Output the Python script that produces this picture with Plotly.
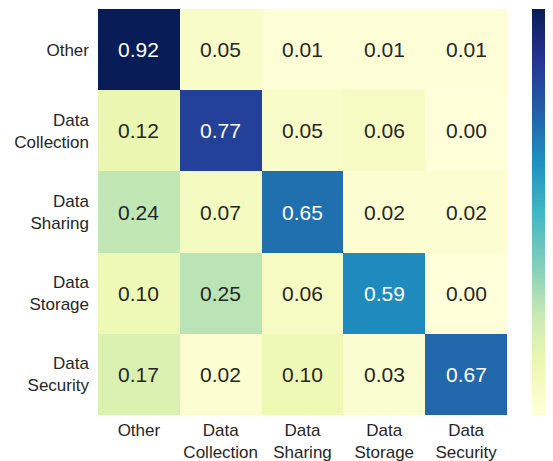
import plotly.graph_objects as go

labels = ["Other", "Data\nCollection", "Data\nSharing", "Data\nStorage", "Data\nSecurity"]
values = [
    [0.92, 0.05, 0.01, 0.01, 0.01],
    [0.12, 0.77, 0.05, 0.06, 0.00],
    [0.24, 0.07, 0.65, 0.02, 0.02],
    [0.10, 0.25, 0.06, 0.59, 0.00],
    [0.17, 0.02, 0.10, 0.03, 0.67],
]

ylgnbu = ["#ffffd9", "#edf8b1", "#c7e9b4", "#7fcdbb", "#41b6c4",
          "#1d91c0", "#225ea8", "#253494", "#081d58"]
colorscale = [[i / (len(ylgnbu) - 1), c] for i, c in enumerate(ylgnbu)]

# page body has an 8px default margin, so the figure is offset by 8px
W, H = 545, 461
L, R, T, B = 90, 46, 1, 54
pw = W - L - R

ticktext = [s.replace("\n", "<br>") for s in labels]
idx = list(range(len(labels)))

zmin = min(min(r) for r in values)
zmax = max(max(r) for r in values)

fig = go.Figure(go.Heatmap(
    z=values, x=idx, y=idx,
    colorscale=colorscale, zmin=zmin, zmax=zmax,
    xgap=0, ygap=0,
    colorbar=dict(
        x=(524 - L) / pw, xanchor="left", xpad=0, ypad=0,
        y=0.5, yanchor="middle", len=1, lenmode="fraction",
        thickness=30, outlinewidth=0, ticks="", showticklabels=False,
    ),
    hoverinfo="skip",
))

for i, row in enumerate(values):
    for j, v in enumerate(row):
        frac = (v - zmin) / (zmax - zmin)
        color = "white" if frac > 0.6 else "#262626"
        fig.add_annotation(x=j, y=i, xref="x", yref="y", text=f"{v:.2f}",
                           showarrow=False,
                           font=dict(family="Liberation Sans, Arial", size=21, color=color))

fig.update_layout(
    width=W, height=H,
    margin=dict(l=L, r=R, t=T, b=B, autoexpand=False),
    paper_bgcolor="white", plot_bgcolor="white",
    font=dict(family="Liberation Sans, Arial", size=17, color="#262626"),
    xaxis=dict(tickvals=idx, ticktext=ticktext, showgrid=False, zeroline=False,
               ticks="", range=[-0.5, 4.5], ticklabelstandoff=3),
    yaxis=dict(tickvals=idx, ticktext=ticktext, showgrid=False, zeroline=False,
               ticks="", range=[4.5, -0.5], ticklabelstandoff=8),
)

fig.write_html("out.html")
